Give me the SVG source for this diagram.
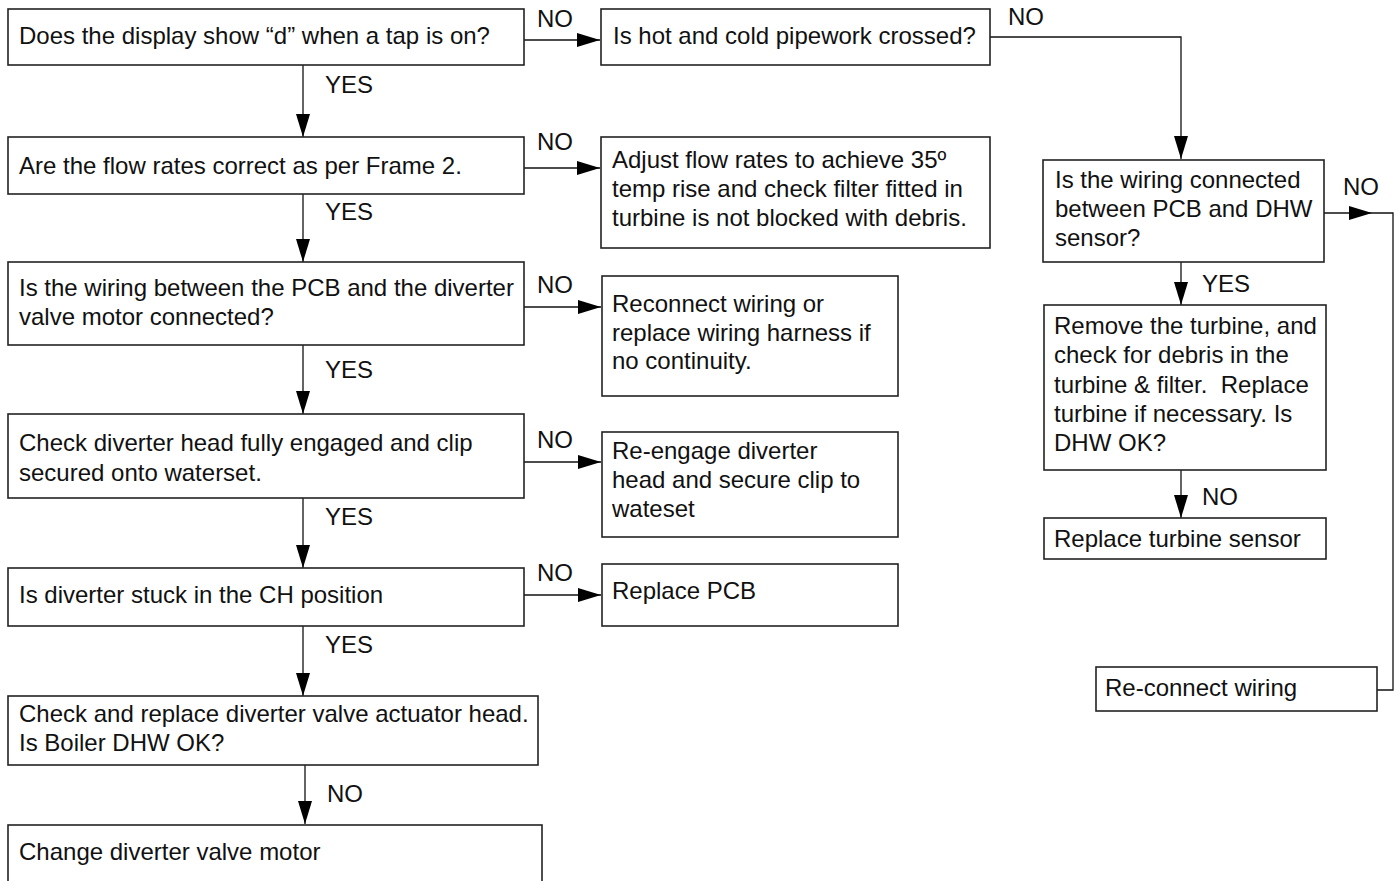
<svg xmlns="http://www.w3.org/2000/svg" width="1400" height="881" viewBox="0 0 1400 881">
<style>
  .box{fill:#fff;stroke:#222;stroke-width:1.6}
  .t{font-family:"Liberation Sans",Arial,sans-serif;font-size:24px;fill:#111}
  .c{fill:none;stroke:#111;stroke-width:1.3}
</style>
<defs>
  <marker id="ah" markerUnits="userSpaceOnUse" markerWidth="24" markerHeight="16" refX="23" refY="7" orient="auto">
    <path d="M0,0 L23,7 L0,14 Z" fill="#000"/>
  </marker>
</defs>
<rect width="1400" height="881" fill="#fff"/>

<g id="connectors">
  <path class="c" d="M303 65 V137" marker-end="url(#ah)"/>
  <path class="c" d="M524 40 H600" marker-end="url(#ah)"/>
  <path class="c" d="M524 168 H600" marker-end="url(#ah)"/>
  <path class="c" d="M303 194 V262" marker-end="url(#ah)"/>
  <path class="c" d="M524 307 H601" marker-end="url(#ah)"/>
  <path class="c" d="M303 345 V414" marker-end="url(#ah)"/>
  <path class="c" d="M524 462 H601" marker-end="url(#ah)"/>
  <path class="c" d="M303 498 V568" marker-end="url(#ah)"/>
  <path class="c" d="M524 595 H601" marker-end="url(#ah)"/>
  <path class="c" d="M303 626 V696" marker-end="url(#ah)"/>
  <path class="c" d="M305 765 V824" marker-end="url(#ah)"/>
  <path class="c" d="M990 37 H1181 V159" marker-end="url(#ah)"/>
  <path class="c" d="M1181 262 V305" marker-end="url(#ah)"/>
  <path class="c" d="M1181 470 V518" marker-end="url(#ah)"/>
  <path class="c" d="M1324 213 H1372" marker-end="url(#ah)"/>
  <path class="c" d="M1372 213 H1393 V690 H1377"/>
  <g class="t">
    <text x="537" y="27">NO</text>
    <text x="1008" y="25">NO</text>
    <text x="325" y="93">YES</text>
    <text x="537" y="150">NO</text>
    <text x="325" y="220">YES</text>
    <text x="537" y="293">NO</text>
    <text x="325" y="378">YES</text>
    <text x="537" y="448">NO</text>
    <text x="325" y="525">YES</text>
    <text x="537" y="581">NO</text>
    <text x="325" y="653">YES</text>
    <text x="327" y="802">NO</text>
    <text x="1343" y="195">NO</text>
    <text x="1202" y="292">YES</text>
    <text x="1202" y="505">NO</text>
  </g>
</g>

<g id="n1">
  <rect class="box" x="8" y="9" width="516" height="56"/>
  <text class="t" x="19" y="44">Does the display show “d” when a tap is on?</text>
</g>
<g id="n2">
  <rect class="box" x="601" y="9" width="389" height="56"/>
  <text class="t" x="613" y="44">Is hot and cold pipework crossed?</text>
</g>
<g id="n3">
  <rect class="box" x="8" y="137" width="516" height="57"/>
  <text class="t" x="19" y="174">Are the flow rates correct as per Frame 2.</text>
</g>
<g id="n4">
  <rect class="box" x="601" y="137" width="389" height="111"/>
  <text class="t" x="612" y="168">Adjust flow rates to achieve 35º</text>
  <text class="t" x="612" y="197">temp rise and check filter fitted in</text>
  <text class="t" x="612" y="226">turbine is not blocked with debris.</text>
</g>
<g id="n5">
  <rect class="box" x="8" y="262" width="516" height="83"/>
  <text class="t" x="19" y="296">Is the wiring between the PCB and the diverter</text>
  <text class="t" x="19" y="325">valve motor connected?</text>
</g>
<g id="n6">
  <rect class="box" x="602" y="276" width="296" height="120"/>
  <text class="t" x="612" y="312">Reconnect wiring or</text>
  <text class="t" x="612" y="341">replace wiring harness if</text>
  <text class="t" x="612" y="369">no continuity.</text>
</g>
<g id="n7">
  <rect class="box" x="8" y="414" width="516" height="84"/>
  <text class="t" x="19" y="451">Check diverter head fully engaged and clip</text>
  <text class="t" x="19" y="481">secured onto waterset.</text>
</g>
<g id="n8">
  <rect class="box" x="602" y="432" width="296" height="105"/>
  <text class="t" x="612" y="459">Re-engage diverter</text>
  <text class="t" x="612" y="488">head and secure clip to</text>
  <text class="t" x="612" y="517">wateset</text>
</g>
<g id="n9">
  <rect class="box" x="8" y="568" width="516" height="58"/>
  <text class="t" x="19" y="603">Is diverter stuck in the CH position</text>
</g>
<g id="n10">
  <rect class="box" x="602" y="564" width="296" height="62"/>
  <text class="t" x="612" y="599">Replace PCB</text>
</g>
<g id="n11">
  <rect class="box" x="8" y="696" width="530" height="69"/>
  <text class="t" x="19" y="722">Check and replace diverter valve actuator head.</text>
  <text class="t" x="19" y="751">Is Boiler DHW OK?</text>
</g>
<g id="n12">
  <rect class="box" x="8" y="825" width="534" height="70"/>
  <text class="t" x="19" y="860">Change diverter valve motor</text>
</g>
<g id="n13">
  <rect class="box" x="1043" y="160" width="281" height="102"/>
  <text class="t" x="1055" y="188">Is the wiring connected</text>
  <text class="t" x="1055" y="217">between PCB and DHW</text>
  <text class="t" x="1055" y="246">sensor?</text>
</g>
<g id="n14">
  <rect class="box" x="1044" y="305" width="282" height="165"/>
  <text class="t" x="1054" y="334">Remove the turbine, and</text>
  <text class="t" x="1054" y="363">check for debris in the</text>
  <text class="t" x="1054" y="393" xml:space="preserve">turbine &amp; filter.  Replace</text>
  <text class="t" x="1054" y="422">turbine if necessary. Is</text>
  <text class="t" x="1054" y="451">DHW OK?</text>
</g>
<g id="n15">
  <rect class="box" x="1044" y="518" width="282" height="41"/>
  <text class="t" x="1054" y="547">Replace turbine sensor</text>
</g>
<g id="n16">
  <rect class="box" x="1096" y="667" width="281" height="44"/>
  <text class="t" x="1105" y="696">Re-connect wiring</text>
</g>
</svg>
